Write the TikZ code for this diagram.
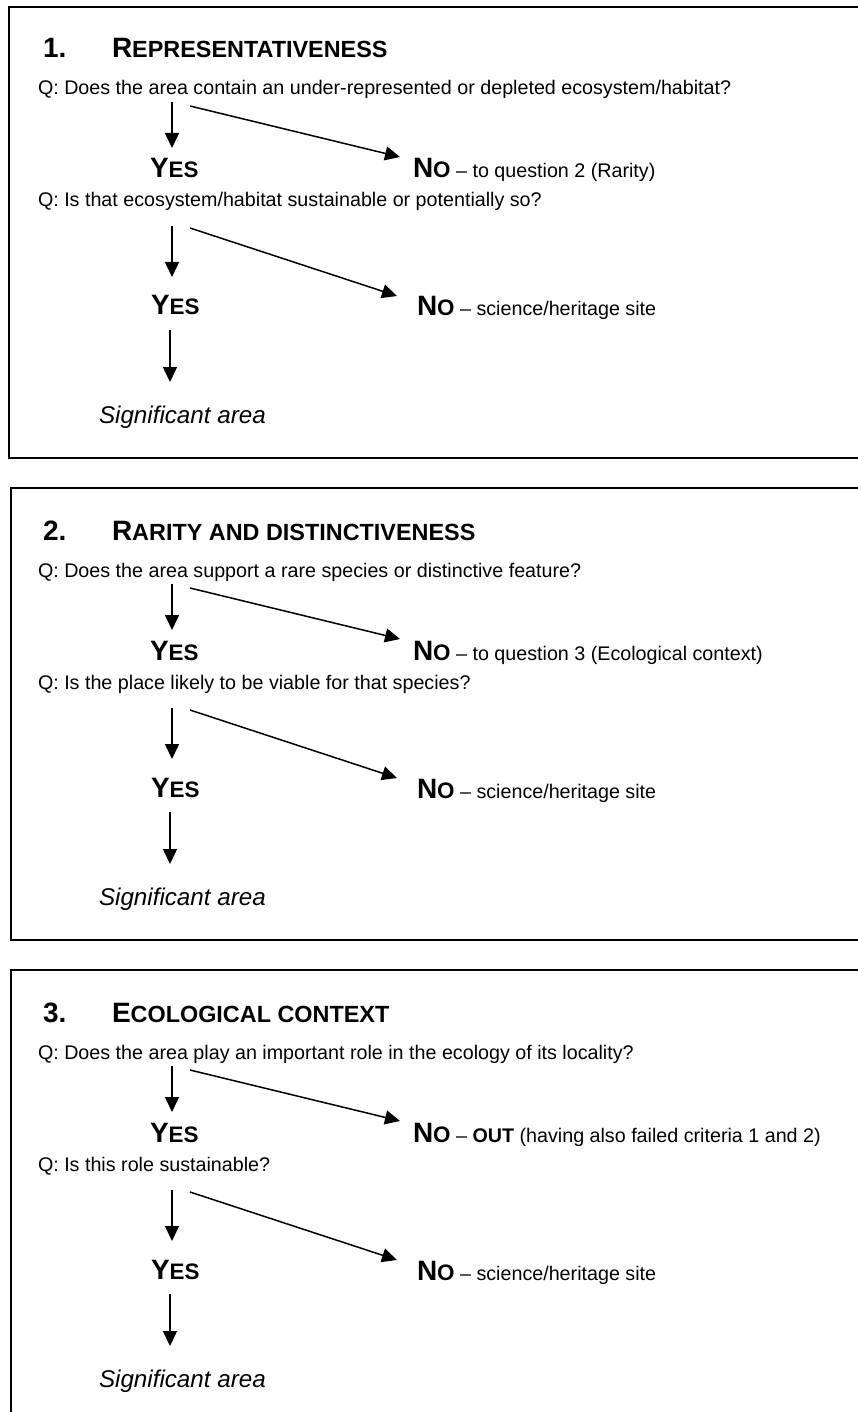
\documentclass[tikz,border=0pt]{standalone}
\usepackage{fontspec}
\setmainfont{Liberation Sans}
\usetikzlibrary{arrows.meta}
\newcommand\qf{\fontsize{19.7}{23}\selectfont}
\newcommand\capL[1]{{\fontsize{28}{30}\selectfont\bfseries #1}}
\newcommand\capS[1]{{\fontsize{22.4}{26}\selectfont\bfseries #1}}
\newcommand\capT[1]{{\fontsize{23.4}{26}\selectfont\bfseries #1}}
\tikzset{
  txt/.style={anchor=base west, inner sep=0pt, outer sep=0pt},
  arr/.style={line width=1.5pt, -{Triangle[length=15pt,width=14pt]}},
  frame/.style={line width=2pt},
}
\newcommand\panel[6]{%
\begin{scope}[shift={(0,#2)}]
  \node[txt] (num#1) at (43,58) {\capL{#1.}};
  \node[txt] (title#1) at (112,58) {#3};
  \node[txt] (qa#1) at (38,95) {\qf #4};
  \node[txt] (yesa#1) at (150,178) {\capL{Y}\capS{ES}};
  \node[txt] (noa#1) at (413,178) {\capL{N}\capS{O}\qf\ -- #5};
  \node[txt] (qb#1) at (38,207) {\qf #6};
  \node[txt] (yesb#1) at (151,315) {\capL{Y}\capS{ES}};
  \node[txt] (nob#1) at (417,316) {\capL{N}\capS{O}\qf\ -- science/heritage site};
  \node[txt] (sig#1) at (99,423) {\fontsize{24.2}{27}\selectfont\itshape Significant area};
  \coordinate (d1s#1) at (172,102);
  \coordinate (d1e#1) at (172,148);
  \coordinate (g1s#1) at (190,106);
  \coordinate (g1e#1) at (400,157);
  \coordinate (d2s#1) at (172,226);
  \coordinate (d2e#1) at (172,277);
  \coordinate (g2s#1) at (190,228);
  \coordinate (g2e#1) at (397,296);
  \coordinate (d3s#1) at (170,330);
  \coordinate (d3e#1) at (170,382);
  \draw[arr] (d1s#1) -- (d1e#1);
  \draw[arr] (g1s#1) -- (g1e#1);
  \draw[arr] (d2s#1) -- (d2e#1);
  \draw[arr] (g2s#1) -- (g2e#1);
  \draw[arr] (d3s#1) -- (d3e#1);
\end{scope}}
\begin{document}
\begin{tikzpicture}[x=1pt,y=-1pt]
  \useasboundingbox (0,0) rectangle (858,1412);
  \fill[white] (0,0) rectangle (858,1412);
  \draw[frame] (858,6.7) -- (9.3,6.7) -- (9.3,458.3) -- (858,458.3);
  \draw[frame] (858,488) -- (11,488) -- (11,940) -- (858,940);
  \draw[frame] (858,970) -- (11,970) -- (11,1412);
  \panel{1}{0}{\capL{R}\capT{EPRESENTATIVENESS}}
    {Q: Does the area contain an under-represented or depleted ecosystem/habitat?}
    {to question 2 (Rarity)}
    {Q: Is that ecosystem/habitat sustainable or potentially so?}
  \panel{2}{482}{\capL{R}\capT{ARITY AND DISTINCTIVENESS}}
    {Q: Does the area support a rare species or distinctive feature?}
    {to question 3 (Ecological context)}
    {Q: Is the place likely to be viable for that species?}
  \panel{3}{964}{\capL{E}\capT{COLOGICAL CONTEXT}}
    {Q: Does the area play an important role in the ecology of its locality?}
    {\textbf{OUT} (having also failed criteria 1 and 2)}
    {Q: Is this role sustainable?}
\end{tikzpicture}
\end{document}
